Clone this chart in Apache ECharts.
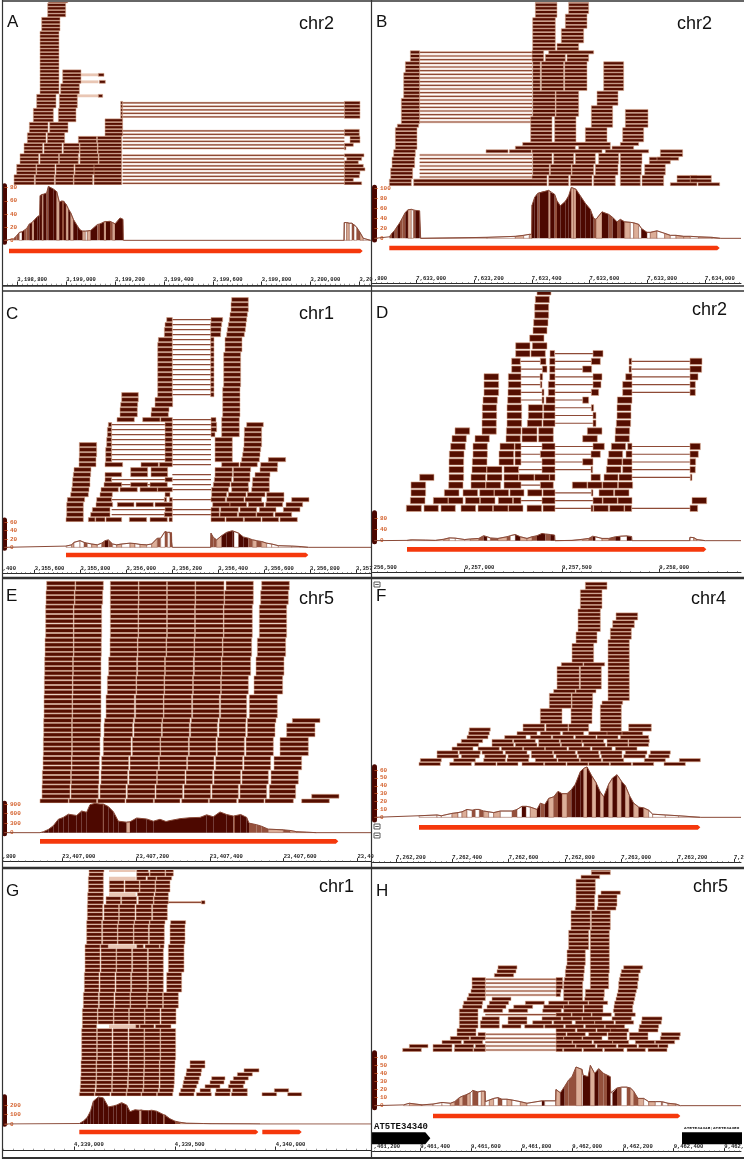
<!DOCTYPE html>
<html>
<head>
<meta charset="utf-8">
<style>html,body{margin:0;padding:0;background:#fff}#c{width:744px;height:1160px}</style>
<script src="https://cdn.jsdelivr.net/npm/echarts@6/dist/echarts.min.js"></script>
</head>
<body>
<div id="c"></div>
<script>
// Read rows: [rowFrom,rowTo, start,end, start,end, ...] positions in track bins (1/3 reference pixel)
const readsA=[[0,2,42,103,106,163,166,220,222,278,282,365],[3,5,50,108,110,165,168,222,225,285,282,365],[6,8,60,116,120,176,178,235,240,295,297,365],[9,11,72,128,132,186,190,238,240,292,294,365],[12,13,82,138,142,194,235,290,292,365],[14,14,82,138,142,194,315,368],[15,17,88,144,149,204,315,368],[18,18,100,160,175,228,315,368],[19,21,100,160,175,228,362,368],[22,23,110,168,178,232,362,368],[24,25,110,168,178,232],[26,28,120,177,182,238],[29,32,120,177,188,243],[33,43,120,177],[44,47,125,180],[48,51,143,197],[52,52,145,203]];
const rightA=[[19,23,1033,1080],[14,15,1033,1078],[12,13,1050,1080],[11,11,1033,1060],[10,10,1033,1038],[8,8,1033,1092],[7,7,1040,1085],[6,6,1033,1075],[5,5,1033,1090],[4,4,1033,1095],[3,3,1033,1080],[2,2,1033,1078],[1,1,1033,1060],[0,0,1033,1085],[31,31,295,312],[29,29,298,316],[25,25,295,308]];
const intronsA=[[19,23,368,1033],[11,15,368,1033],[10,10,368,1033],[0,8,368,1033]];
const paleA=[[31,31,218,295],[29,29,218,295],[25,25,218,295],[10,10,218,295],[1,1,218,295],[3,3,218,295],[5,5,218,295],[7,7,218,295]];
const covA=[[40,2,1],[50,7,1],[58,12,3],[66,13,0],[72,15,1],[80,18,1],[88,25,0],[96,27,2],[102,30,0],[112,36,0],[119,38,0],[120,68,0],[126,70,2],[130,70,0],[140,72,1],[145,82,0],[160,78,0],[170,74,2],[178,58,0],[186,60,1],[192,60,0],[198,55,2],[205,48,0],[212,42,2],[220,32,0],[232,22,0],[240,16,0],[248,14,2],[256,14,3],[262,14,2],[272,15,0],[292,24,1],[300,25,0],[312,28,2],[318,29,0],[330,29,1],[338,27,2],[345,25,0],[360,34,0],[369,32,0],[370,0,3],[1032,0,3],[1033,27,3],[1040,27,2],[1048,26,3],[1056,26,1],[1062,24,3],[1070,20,1],[1080,12,2],[1090,3,3],[1112,0,3]];
const geneA=[[27,1088]];
const tickLabelsA=['3,198,800','3,199,000','3,199,200','3,199,400','3,199,600','3,199,800','3,200,000','3,20'];
const covTicksA=[0,20,40,60,80];

const readsB=[[0,1,52,118,125,525,530,590,595,660,665,730,745,805,810,875],[0,0,895,975,978,1043],[1,1,915,975],[2,2,56,122,480,525,530,590,595,660,665,730,745,805,810,875,915,975,955,1018],[1,1,955,1018],[3,4,56,122,482,532,535,598,600,665,670,738,745,808,818,880],[5,5,60,128,482,532,535,598,600,665,670,738,745,808,818,880],[6,7,60,128,482,540,545,605,610,670,680,740,745,810,832,895],[7,7,855,920],[8,8,65,130,482,540,545,605,610,670,680,740,745,810,865,932],[9,9,65,130,342,408,412,478,480,690,700,830,865,932],[10,10,70,135,430,610,620,715,720,785],[11,11,70,135,452,715,745,800],[12,15,70,135,476,540,548,612,640,705,752,815],[16,16,76,140,476,540,548,612,658,722,760,828],[17,18,88,143,476,540,548,612,658,722,760,828],[19,20,88,143,482,550,552,620,658,722,760,828],[21,21,88,143,482,550,552,620,658,722],[22,23,88,143,482,550,552,620,675,738],[24,25,95,143,482,550,552,620,675,738],[26,30,95,143,482,505,508,575,578,645,695,755],[31,33,100,143,482,505,508,575,578,645,695,755],[34,35,115,143,480,515,520,580,585,650],[36,36,115,143,480,515,530,665],[37,38,482,550,555,620],[39,42,482,550,568,635],[43,45,482,550,580,645],[46,46,490,555,580,645],[47,50,490,555,590,650]];
const intronsB=[[0,8,143,480],[17,36,143,480]];
const paleB=[];
const covB=[[52,3,1],[60,10,0],[68,16,1],[76,24,0],[84,32,1],[92,42,1],[100,52,0],[108,57,2],[118,58,3],[124,56,1],[130,56,0],[143,55,0],[146,0,3],[345,2,3],[430,4,2],[455,6,3],[472,8,2],[479,8,2],[480,66,0],[488,82,0],[497,90,1],[503,92,0],[530,96,2],[535,92,0],[548,88,1],[555,75,0],[565,65,0],[580,74,0],[590,85,0],[598,102,2],[605,100,2],[612,98,0],[625,85,0],[640,70,0],[655,58,0],[665,40,1],[672,38,2],[690,53,0],[710,48,1],[722,42,0],[735,33,1],[745,38,0],[758,33,2],[775,32,3],[785,31,2],[800,28,3],[808,20,0],[825,12,3],[835,12,2],[855,15,3],[878,10,2],[895,6,3],[912,6,2],[935,4,2],[955,4,3],[980,3,2],[1020,2,2],[1045,0,3]];
const geneB=[[52,1043]];
const tickLabelsB=['7,633,000','7,633,200','7,633,400','7,633,600','7,633,800','7,634,000'];
const covTicksB=[0,20,40,60,80,100];

const readsC=[[44,44,695,745],[42,43,693,745],[41,41,690,742],[40,40,500,517,633,668,688,740],[39,39,495,517,632,665,685,738],[38,38,493,517,632,663,682,736],[37,37,493,517,632,662,680,733],[36,36,475,517,632,642,675,726],[34,35,473,517,632,642,675,726],[27,33,473,517,632,642,671,722],[25,26,473,517,632,642,668,720],[24,24,465,518,365,415,668,720],[23,23,465,518,362,413,668,720],[22,22,455,507,360,412,668,720],[21,21,453,505,360,412,668,720],[20,20,428,480,482,517,351,403,633,648,665,718],[25,25,365,415],[19,19,325,335,495,517,633,650,665,718,740,790],[18,18,322,335,495,517,633,650,665,718,733,785],[17,17,322,335,495,517,633,645,665,718,733,785],[16,16,320,335,495,517,645,697,732,785],[15,15,238,290,320,335,495,517,645,697,732,785],[14,14,238,290,317,335,495,517,645,697,730,782],[13,13,238,290,317,335,495,517,645,697,728,780],[12,12,237,288,317,335,495,517,645,697,725,778,805,857],[11,11,237,288,315,368,423,475,478,517,665,717,720,772,782,833],[10,10,222,273,392,443,453,503,645,697,700,752,780,832],[9,9,220,272,315,365,392,443,453,503,645,697,700,750,765,810],[8,8,218,270,315,335,495,517,643,695,700,750,758,808],[7,7,217,270,312,365,392,443,450,502,640,690,693,745,757,808],[6,6,215,267,303,355,360,412,420,472,473,517,635,686,695,746,755,808],[5,5,212,265,300,337,495,510,635,680,685,738,742,795,800,852],[4,4,202,254,290,335,493,500,508,517,633,676,680,732,735,785,800,852,875,927],[3,3,200,250,288,338,352,402,408,460,465,517,638,690,690,740,745,792,797,848,858,908],[2,2,200,250,277,330,495,517,633,658,662,715,720,770,778,828,850,900],[1,1,200,250,272,330,493,517,633,658,660,712,716,768,770,820,825,875],[0,0,198,250,265,285,287,315,318,365,388,440,450,502,507,517,633,675,678,730,733,783,786,836,840,892]];
const intronsC=[[25,40,517,633],[11,20,517,633],[9,9,517,633],[6,8,517,633],[4,4,517,633],[1,2,517,633],[12,19,335,495],[7,8,335,495],[4,4,335,493],[1,2,335,495]];
const paleC=[];
const covC=[[198,3,3],[215,6,2],[222,12,3],[240,16,3],[252,12,1],[262,10,3],[275,8,2],[292,6,3],[305,10,1],[315,16,0],[325,18,1],[338,8,3],[350,6,2],[365,8,3],[390,10,2],[405,9,3],[420,7,2],[440,6,3],[455,8,2],[472,22,1],[482,22,3],[495,38,1],[503,36,3],[510,36,1],[516,36,1],[517,0,3],[632,0,3],[633,34,1],[640,24,1],[650,18,2],[665,28,0],[680,36,0],[697,40,0],[702,38,3],[716,34,0],[730,25,0],[745,22,1],[758,18,2],[770,16,1],[785,14,2],[800,10,3],[815,8,3],[835,4,3],[875,3,3],[900,2,3],[925,0,3]];
const geneC=[[198,925]];
const tickLabelsC=['3,355,600','3,355,800','3,356,000','3,356,200','3,356,400','3,356,600','3,356,800','3,357'];
const covTicksC=[0,20,40,60];

const readsD=[[28,28,495,537],[27,27,490,532],[25,26,488,530],[24,24,485,528],[23,23,483,525],[22,22,473,516],[21,21,431,474,481,525],[20,20,431,474,477,520,534,548,663,693],[19,19,419,445,505,522,533,549,658,685,771,779,954,990],[18,18,419,447,511,525,533,549,632,659,771,778,954,989],[17,17,336,380,409,447,504,512,533,549,663,690,761,780,954,978],[16,16,336,380,409,447,505,510,529,549,663,687,752,780,954,970],[15,15,336,380,408,447,510,516,529,549,658,680,752,780,954,970],[14,14,333,376,407,447,510,516,522,549,632,650,736,780],[13,13,331,374,405,449,469,512,515,549,658,665,735,777],[12,12,331,374,405,449,469,512,515,549,663,672,735,777],[11,11,330,373,405,449,466,510,513,549,663,672,733,776],[10,10,249,293,330,373,403,447,450,495,500,544,646,690,730,773],[9,9,240,283,309,352,402,445,450,495,500,544,632,676,729,772],[8,8,236,280,303,346,384,427,429,447,510,549,663,697,718,761,767,780,954,985],[7,7,232,276,303,346,381,425,429,447,505,549,657,685,710,752,762,780,954,979],[6,6,231,275,301,345,381,425,429,447,510,549,632,663,706,750,752,780,954,971],[5,5,231,275,300,344,345,390,396,440,510,549,657,662,703,747,752,780,954,970],[4,4,143,186,231,275,297,341,345,390,396,440,441,486,488,532,533,549,657,685,696,738,741,780,955,960],[3,3,117,161,230,273,297,341,342,386,396,447,505,544,601,645,647,690,692,737,739,782],[2,2,117,161,217,261,273,317,323,366,367,410,414,456,467,510,513,549,658,663,681,725,728,771],[1,1,115,159,184,228,229,273,280,323,325,369,379,422,424,447,510,549,663,691,693,736,738,780,960,1004],[0,0,103,148,156,199,207,250,267,311,318,362,364,408,410,453,465,509,513,549,657,663,665,709,713,756,758,779,954,977]];
const intronsD=[[20,20,549,663],[19,19,445,505,549,658,779,954],[18,18,447,511,549,632,778,954],[17,17,447,504,549,663,780,954],[16,16,447,505,549,663,780,954],[15,15,447,510,549,658,780,954],[14,14,447,510,549,632],[13,13,549,658],[12,12,549,663],[11,11,549,663],[8,8,447,510,549,663,780,954],[7,7,447,505,549,657,780,954],[6,6,447,510,549,632,780,954],[5,5,440,510,549,657,780,954],[4,4,780,955],[3,3,447,505],[2,2,549,658],[1,1,447,510,549,663],[0,0,549,657,779,954]];
const paleD=[];
const covD=[[105,1,3],[118,3,3],[160,2,3],[190,1,3],[215,5,2],[232,10,3],[250,9,3],[278,4,3],[295,6,2],[320,8,1],[335,18,0],[345,14,3],[355,10,1],[378,8,2],[405,14,1],[415,18,3],[430,22,0],[445,14,2],[465,8,2],[480,14,1],[495,18,0],[510,26,0],[520,24,1],[535,22,0],[548,20,0],[549,0,3],[600,1,3],[632,5,2],[650,8,1],[662,16,0],[670,14,3],[690,8,2],[710,8,1],[730,14,0],[745,16,3],[765,17,0],[779,15,0],[780,0,3],[953,0,3],[954,12,3],[965,11,2],[975,4,3],[1000,0,3]];
const geneD=[[105,1003]];
const tickLabelsD=['9,257,000','9,257,500','9,258,000'];
const covTicksD=[0,40,80];

const readsE=[[0,0,120,205,207,290,293,375,378,460,463,540,545,625,628,710,715,792,795,880,905,988],[1,1,935,1017],[1,3,126,210,213,295,300,378,382,465,468,548,552,632,636,715,720,800,808,887],[4,6,127,212,214,297,303,383,387,470,472,555,558,638,642,722,726,805,813,895],[7,9,129,214,216,298,305,386,390,475,478,560,563,642,647,728,732,812,822,905],[10,13,130,215,217,300,310,393,397,480,482,565,568,648,652,733,738,820,840,925],[14,16,131,215,217,302,312,398,402,484,487,568,572,652,657,737,742,825,860,945],[17,17,131,215,217,303,314,400,404,486,488,570,574,654,658,738,742,828,877,960],[18,22,132,216,218,303,318,403,407,490,492,575,578,658,662,740,748,832],[23,26,133,217,219,303,322,408,410,492,494,578,580,662,664,745,762,848],[27,30,134,218,220,303,326,410,413,494,496,580,583,664,666,752,768,852],[31,34,135,220,222,304,330,412,414,498,500,582,584,667,669,755,772,857],[35,41,137,220,222,305,331,414,416,500,502,584,586,670,672,757,778,860],[42,44,138,223,225,308,331,415,417,500,502,585,587,672,674,760,782,865],[45,46,140,225,227,310,331,415,417,500,502,585,587,672,678,760,785,868]];
const intronsE=[];
const paleE=[];
const covE=[[120,0,0],[130,30,0],[145,100,0],[160,220,0],[175,420,0],[190,480,0],[205,580,0],[230,540,0],[245,680,0],[260,640,0],[270,880,0],[285,920,0],[300,900,0],[309,900,2],[311,900,0],[325,820,0],[340,660,0],[355,360,0],[380,330,2],[390,340,0],[410,460,0],[440,430,0],[460,360,0],[480,420,0],[498,350,0],[510,380,0],[540,440,0],[570,470,0],[600,480,0],[620,560,0],[640,500,0],[660,650,0],[680,570,0],[700,520,1],[705,530,0],[722,570,0],[740,480,0],[747,300,1],[770,250,1],[785,200,1],[805,110,2],[850,90,1],[870,70,2],[890,30,2],[920,15,3],[950,0,3]];
const geneE=[[120,1015]];
const tickLabelsE=['23,407,000','23,407,200','23,407,400','23,407,600','23,40'];
const covTicksE=[0,300,600,900];

const readsF=[[0,0,141,205,233,298,308,372,375,438,450,515,518,582,585,648,650,712,715,778,782,845,876,940],[1,1,145,208,245,310,335,400,405,470,490,555,558,622,625,688,692,755,817,880,922,985],[2,2,195,260,268,322,338,402,408,472,478,545,552,615,620,682,688,750,755,820,830,892],[3,3,195,258,262,325,330,393,400,465,478,542,545,610,616,680,685,750,760,825,835,895],[4,4,240,303,318,382,388,452,455,518,520,585,590,655,660,720,730,795],[5,5,255,320,360,425,430,495,500,565,568,630,635,700,705,768,770,830],[6,6,268,332,360,422,425,490,500,562,565,630,630,695,705,768,770,832],[7,7,285,348,398,462,475,538,542,605,610,672,675,738,745,830],[8,8,290,352,435,495,505,565,572,635,650,712,705,768,750,812],[9,9,292,355,453,518,522,588,590,650,685,748,770,838],[10,10,453,518,522,588,590,650,685,748,770,838],[11,14,505,570,597,660,685,748],[15,15,532,598,600,662,685,748],[16,16,532,598,600,662,690,752],[17,18,532,598,600,662,708,772],[19,19,545,610,612,672,708,772],[20,25,555,622,625,688,708,772],[26,26,568,633,635,698,708,772],[27,31,600,665,708,772],[32,32,612,675,708,772],[33,34,612,675,715,778],[35,35,618,685,715,778],[36,37,618,685,722,787],[38,39,618,685,732,797],[40,40,618,685],[41,45,625,690],[46,47,640,705]];
const intronsF=[];
const paleF=[];
const covF=[[141,2,3],[195,3,3],[208,2,3],[240,5,2],[258,6,3],[270,7,2],[285,10,3],[300,9,1],[310,10,3],[322,10,1],[335,8,2],[350,7,3],[365,6,2],[385,8,3],[420,8,1],[435,10,3],[450,14,0],[462,14,3],[475,13,2],[495,10,0],[505,18,1],[518,16,0],[530,24,2],[545,26,1],[558,33,0],[570,30,2],[585,30,1],[598,35,0],[610,42,0],[625,58,0],[635,62,2],[645,64,0],[660,52,2],[672,44,0],[685,32,2],[695,26,0],[710,42,2],[722,50,0],[735,54,2],[748,46,0],[760,40,2],[772,28,0],[785,18,2],[800,13,0],[815,12,2],[830,9,3],[842,4,3],[880,3,3],[920,2,3],[985,0,3]];
const geneF=[[141,985]];
const tickLabelsF=['7,262,200','7,262,400','7,262,600','7,262,800','7,263,000','7,263,200','7,2'];
const covTicksF=[0,10,20,30,40,50,60];

const readsG=[[0,0,238,283,285,330,333,378,380,423,425,470,472,518,537,582,589,634,645,690,694,742,786,830,863,905],[1,1,240,285,288,335,337,380,382,428,430,475,478,520,542,585,600,632,648,692,697,742,823,866],[2,2,241,286,289,335,337,382,385,430,432,477,480,522,548,590,615,660,685,730],[3,3,242,287,289,335,337,382,385,430,432,477,480,523,550,595,630,672,690,735],[4,4,242,288,290,335,338,383,385,430,432,478,480,523,553,598,635,675,700,745],[5,5,243,288,290,336,338,384,386,431,433,478,480,524,558,603,712,757],[6,6,243,288,290,336,339,384,386,431,433,478,480,524,560,605,732,777],[7,8,243,288,290,336,339,384,387,432,434,478,480,525,570,615],[9,16,245,290,292,336,339,384,387,432,434,480,482,527],[17,17,247,290,407,418,420,462,466,513],[18,21,247,292,294,340,342,386,388,433,435,480,483,528],[22,25,250,295,298,342,345,390,392,440,442,488,490,535],[26,30,253,297,300,345,348,392,395,442,445,490,500,545],[31,36,255,300,303,348,350,395,398,442,445,490,505,552],[37,37,255,300,302,325,410,430,435,478,480,492,505,552],[38,42,260,305,308,352,354,400,402,445,448,493,510,555],[43,43,260,305,308,354,356,402,404,448,450,495,512,557],[44,47,262,308,312,356,358,405,408,455,458,502],[48,49,263,310,318,362,365,410,415,460,462,505],[48,48,604,615],[50,50,263,310,412,462,465,505],[51,53,265,310,328,372,375,418,420,465,467,510],[54,54,265,310,410,438,442,468,470,515],[55,55,267,310,410,448,450,495,497,520],[56,56,267,312,410,445,450,495,497,520]];
const intronsG=[[48,48,498,604]];
const paleG=[[17,17,327,407],[37,37,327,407],[50,50,327,407],[54,54,327,407],[56,56,327,407]];
const covG=[[238,5,0],[250,30,0],[262,70,0],[272,140,0],[280,240,0],[295,285,0],[310,275,0],[325,180,0],[340,190,0],[350,200,0],[365,225,0],[380,200,0],[390,130,0],[405,150,0],[418,145,2],[424,150,0],[445,140,0],[455,145,0],[470,135,0],[490,100,1],[495,100,0],[510,55,0],[525,30,1],[540,18,2],[560,8,2],[610,5,3],[630,3,3],[750,1,3],[780,0,3]];
const geneG=[[238,775],[787,905]];
const tickLabelsG=['4,339,000','4,339,500','4,340,000'];
const covTicksG=[0,100,200];

const readsH=[[0,0,92,148,183,240,247,303,305,340,552,572,575,630,634,692,697,755,765,820,828,885],[1,1,112,168,183,240,248,305,310,340,552,610,612,670,675,733,738,795,800,858,860,888],[2,2,210,268,275,332,552,600,602,660,665,722,722,770,790,848,850,908],[3,3,235,292,295,340,552,575,575,630,632,690,708,765,772,828,865,922],[4,4,255,312,318,340,552,582,585,640,650,705,708,765,772,828,868,925],[5,5,255,312,552,610,615,672,675,732,715,770,800,858],[6,6,262,318,325,382,390,447,458,515,518,575,580,635,640,697,700,758,802,860],[7,7,262,318,325,382,408,465,482,540,545,600,610,668,668,726,730,785,808,868],[8,8,262,318,330,382,408,465,510,568,572,630,632,690,720,778,810,870],[9,9,262,318,552,598,600,658,660,718,728,790],[10,10,262,318,335,392,410,467,512,568,575,633,636,693,724,782],[11,11,272,330,345,402,425,482,515,575,575,633,636,693,726,782],[12,12,275,332,352,410,460,517,530,588,590,648,650,707,728,785],[13,13,285,340,360,417,575,632,638,695,732,788],[14,14,290,340,552,565,575,632,640,697,735,790],[15,15,297,340,552,567,575,632,640,697,738,793],[16,17,300,340,552,572,575,632,655,710,740,797],[18,18,300,340,552,572,577,635,655,710,742,800],[19,19,367,425,580,635,655,710,745,800],[20,20,375,432,580,637,655,712,748,805],[21,21,378,435,582,637,655,712,755,812],[22,25,585,640,655,712],[26,30,590,650,655,712],[31,35,597,655,658,715],[36,36,610,668,675,732],[37,39,612,668,678,735],[40,40,612,670,687,745],[41,43,612,670],[44,44,627,683],[45,46,658,715]];
const intronsH=[[0,4,340,552],[9,9,340,552],[14,18,340,552]];
const paleH=[];
const covH=[[95,1,3],[112,3,2],[150,1,3],[183,2,3],[210,4,3],[235,3,2],[248,5,1],[262,10,2],[272,12,1],[285,14,2],[295,16,3],[302,19,1],[318,17,3],[328,18,2],[339,18,2],[340,5,3],[352,7,2],[365,9,3],[378,10,1],[390,8,3],[405,8,2],[420,7,3],[445,5,2],[465,3,3],[510,6,0],[518,6,3],[551,6,3],[552,20,2],[565,16,0],[578,24,1],[590,32,1],[600,36,1],[612,48,2],[630,45,3],[633,38,0],[648,36,0],[655,50,2],[668,40,0],[680,46,1],[695,40,1],[705,38,0],[715,36,0],[716,16,3],[722,16,0],[735,22,1],[748,23,3],[765,23,1],[775,22,2],[785,18,1],[798,9,2],[815,9,3],[830,5,2],[850,5,3],[868,5,1],[872,5,3],[888,3,2],[912,2,3],[925,0,3]];
const geneH=[[183,925]];
const teH=[[0,175],[930,1113]];
const tickLabelsH=['9,461,400','9,461,600','9,461,800','9,462,000','9,462,200','9,462,400','9,462,'];
const covTicksH=[0,10,20,30,40,50,60];

// Panel layout (z = reference pixel x 3, relative to the panel's crop origin)
const panels=[
 {name:'A',chr:'chr2',ox:0,oy:0,px:2,top:2,base:550,pitch:10.5,reads:readsA.concat(rightA),introns:intronsA,pale:paleA,cov:covA,gene:geneA,labels:tickLabelsA,covTicks:covTicksA,t0:3198800,major:200,z0:52,zStep:146.6,edge:null,covTop:563,covTopVal:80,covBase:721,bandTop:557,bandBot:727,geneZ:753,axisZ:855,lx:7,ly:22,cx:299,cy:24},
 {name:'B',chr:'chr2',ox:372,oy:0,px:372,top:2,base:553,pitch:11,reads:readsB,introns:intronsB,pale:paleB,cov:covB,gene:geneB,labels:tickLabelsB,covTicks:covTicksB,t0:7633000,major:200,z0:133,zStep:173.2,edge:[5,',800'],covTop:565,covTopVal:100,covBase:715,bandTop:562,bandBot:720,geneZ:744,axisZ:850,lx:376,ly:22,cx:677,cy:24},
 {name:'C',chr:'chr1',ox:0,oy:290,px:2,top:292,base:689,pitch:15,reads:readsC,introns:intronsC,pale:paleC,cov:covC,gene:geneC,labels:tickLabelsC,covTicks:covTicksC,t0:3355600,major:200,z0:104,zStep:137.7,edge:[8,',400'],covTop:697,covTopVal:60,covBase:772,bandTop:690,bandBot:775,geneZ:795,axisZ:850,lx:6,ly:314,cx:299,cy:314},
 {name:'D',chr:'chr2',ox:372,oy:290,px:372,top:292,base:655,pitch:23.2,reads:readsD,introns:intronsD,pale:paleD,cov:covD,gene:geneD,labels:tickLabelsD,covTicks:covTicksD,t0:9257000,major:500,z0:278,zStep:292,edge:[5,'256,500'],covTop:685,covTopVal:80,covBase:752,bandTop:668,bandBot:755,geneZ:778,axisZ:847,lx:376,ly:313,cx:692,cy:310},
 {name:'E',chr:'chr5',ox:0,oy:575,px:2,top:580,base:678,pitch:14.2,reads:readsE,introns:intronsE,pale:paleE,cov:covE,gene:geneE,labels:tickLabelsE,covTicks:covTicksE,t0:23407000,major:200,z0:187,zStep:221.3,edge:[7,',800'],covTop:687,covTopVal:900,covBase:773,bandTop:685,bandBot:776,geneZ:799,axisZ:860,lx:6,ly:596,cx:299,cy:599},
 {name:'F',chr:'chr4',ox:372,oy:575,px:372,top:580,base:567,pitch:11.5,reads:readsF,introns:intronsF,pale:paleF,cov:covF,gene:geneF,labels:tickLabelsF,covTicks:covTicksF,t0:7262200,major:200,z0:72,zStep:169,edge:null,covTop:585,covTopVal:60,covBase:727,bandTop:575,bandBot:735,geneZ:757,axisZ:862,lx:376,ly:596,cx:691,cy:599},
 {name:'G',chr:'chr1',ox:0,oy:865,px:2,top:870,base:688,pitch:12,reads:readsG,introns:intronsG,pale:paleG,cov:covG,gene:geneG,labels:tickLabelsG,covTicks:covTicksG,t0:4339000,major:500,z0:222,zStep:302.5,edge:null,covTop:720,covTopVal:200,covBase:777,bandTop:695,bandBot:778,geneZ:801,axisZ:855,lx:6,ly:891,cx:319,cy:887},
 {name:'H',chr:'chr5',ox:372,oy:865,px:372,top:870,base:555,pitch:11.8,reads:readsH,introns:intronsH,pale:paleH,cov:covH,gene:geneH,te:teH,labels:tickLabelsH,covTicks:covTicksH,t0:9461400,major:200,z0:145,zStep:152,edge:[5,',461,200'],covTop:577,covTopVal:60,covBase:722,bandTop:563,bandBot:728,geneZ:753,axisZ:860,lx:376,ly:891,cx:693,cy:887}
];

const DARK='#550e00', EDGE='#dca98f', INTRON='#8e4a36', PALE='#ecd0c2', GENE='#f5380c', ORANGE='#d4622e', AXIS='#2a2a2a';
const SHADES=['#4d0800','#94503c','#dcae98','#ffffff'];

const grid=[],xAxis=[],yAxis=[],series=[],graphic=[];
function expand(bands,toBp){
  const out=[];
  bands.forEach(b=>{for(let r=b[0];r<=b[1];r++)for(let i=2;i<b.length;i+=2)out.push([toBp(b[i]),toBp(b[i+1]),r]);});
  return out;
}
function rowRect(fill,stroke,frac){
  return function(params,api){
    const a=api.coord([api.value(0),api.value(2)]),b=api.coord([api.value(1),api.value(2)]);
    const h=api.size([0,1])[1]*frac;
    return {type:'rect',shape:{x:a[0],y:a[1]-h/2,width:b[0]-a[0],height:h},style:{fill:fill,stroke:stroke,lineWidth:stroke?0.6:0}};
  };
}
function labelAxis(g,p,xmin,xmax,extra){return Object.assign({gridIndex:g,type:'value',min:xmin,max:xmax,show:false,splitLine:{show:false}},extra||{});}

panels.forEach(p=>{
  const L=p.px+0.5, R=p.px===2?371:741;
  const toBp=z=>p.t0+(z-p.z0)*p.major/p.zStep;
  const binAt=px=>(px-p.ox)*3;
  const range=(l,r)=>[toBp(binAt(l)),toBp(binAt(r))];
  const zy=z=>p.oy+z/3;

  // Reads grid
  const rowY0=zy(p.base), pitchPx=p.pitch/3, rBottom=rowY0+pitchPx/2;
  let g=grid.length;
  grid.push({left:L,width:R-L,top:p.top,height:rBottom-p.top,outerBoundsMode:'none',containLabel:false});
  let rg=range(L,R);
  xAxis.push(labelAxis(g,p,rg[0],rg[1]));
  yAxis.push({gridIndex:g,type:'value',show:false,min:-0.5,max:(rowY0-p.top)/pitchPx,splitLine:{show:false}});
  const ax=xAxis.length-1, ay=yAxis.length-1;
  const pitchLight=p.pitch<13;
  if(pitchLight && p.introns.length){
    series.push({type:'custom',xAxisIndex:ax,yAxisIndex:ay,clip:true,silent:true,animation:false,renderItem:rowRect(PALE,null,0.62),data:expand(p.introns,toBp),encode:{x:[0,1],y:2}});
  }
  if(p.introns.length){
    series.push({type:'custom',xAxisIndex:ax,yAxisIndex:ay,clip:true,silent:true,animation:false,renderItem:function(params,api){
      const a=api.coord([api.value(0),api.value(2)]),b=api.coord([api.value(1),api.value(2)]);
      return {type:'rect',shape:{x:a[0],y:a[1]-0.55,width:b[0]-a[0],height:1.1},style:{fill:INTRON}};
    },data:expand(p.introns,toBp),encode:{x:[0,1],y:2}});
  }
  if(p.pale.length){
    series.push({type:'custom',xAxisIndex:ax,yAxisIndex:ay,clip:true,silent:true,animation:false,renderItem:rowRect('#e9c6b4',null,0.8),data:expand(p.pale,toBp),encode:{x:[0,1],y:2}});
  }
  series.push({type:'custom',xAxisIndex:ax,yAxisIndex:ay,clip:true,silent:true,animation:false,renderItem:rowRect(DARK,EDGE,p.pitch>13?0.82:0.84),data:expand(p.reads,toBp),encode:{x:[0,1],y:2}});

  // Coverage grid
  const bandT=zy(p.bandTop), bandB=zy(p.bandBot), unit=(p.covBase-p.covTop)/p.covTopVal;
  const gL=p.px+2.5;
  g=grid.length;
  grid.push({left:gL,width:R-gL,top:bandT,height:bandB-bandT,outerBoundsMode:'none',containLabel:false});
  rg=range(gL,R);
  xAxis.push(labelAxis(g,p,rg[0],rg[1]));
  yAxis.push({gridIndex:g,type:'value',position:'left',
    min:-(p.bandBot-p.covBase)/unit,max:(p.covBase-p.bandTop)/unit,
    axisLine:{show:true,onZero:false,lineStyle:{color:'#4a0600',width:5}},
    axisTick:{show:true,inside:true,length:3.5,customValues:p.covTicks,lineStyle:{color:ORANGE,width:0.7}},
    axisLabel:{show:true,inside:true,margin:5.5,customValues:p.covTicks,color:ORANGE,fontFamily:'Liberation Mono',fontWeight:'bold',fontSize:6},
    splitLine:{show:false}});
  const cx=xAxis.length-1, cy=yAxis.length-1;
  const covRows=p.cov.map((c,i)=>{
    const n=i<p.cov.length-1?p.cov[i+1]:c;
    return [toBp(c[0]),toBp(n[0]),c[1],n[1],c[2]];
  });
  series.push({type:'custom',xAxisIndex:cx,yAxisIndex:cy,silent:true,animation:false,clip:true,renderItem:function(params,api){
    const a=api.coord([api.value(0),api.value(2)]),b=api.coord([api.value(1),api.value(3)]);
    const z=api.coord([api.value(0),0]),y0=z[1],shade=api.value(4);
    if(b[0]-a[0]<0.01||(api.value(2)===0&&api.value(3)===0))return null;
    return {type:'polygon',shape:{points:[[a[0],a[1]],[b[0],b[1]],[b[0],y0],[a[0],y0]]},style:{fill:SHADES[shade],stroke:shade>=2?'#8a4a38':null,lineWidth:shade>=2?0.5:0}};
  },data:covRows,encode:{x:[0,1],y:2}});
  const outline=[[rg[0],0]].concat(p.cov.map(c=>[toBp(c[0]),c[1]])).concat([[rg[1],0]]);
  series.push({type:'line',xAxisIndex:cx,yAxisIndex:cy,symbol:'none',silent:true,animation:false,clip:true,lineStyle:{color:'#8a4a38',width:1},data:outline});

  // Gene track and genome axis
  const geneY=zy(p.geneZ), axisY=zy(p.axisZ), tTop=geneY-14;
  const tHeight=axisY-tTop;
  g=grid.length;
  grid.push({left:L,width:R-L,top:tTop,height:tHeight,outerBoundsMode:'none',containLabel:false});
  rg=range(L,R);
  const ticks=[],labelMap={},labVals=[],minor=[];
  for(let i=-3;i<14;i++){
    const v=p.t0+i*p.major;
    if(v>=rg[0]&&v<=rg[1]){ticks.push(v);if(i>=0&&i<p.labels.length){labVals.push(v);labelMap[String(v)]=p.labels[i];}}
  }
  for(let v=p.t0-3*p.major;v<=rg[1];v+=p.major/10){if(v>=rg[0])minor.push(v);}
  if(p.edge){const v=Math.ceil(toBp(p.edge[0]));labVals.unshift(v);labelMap[String(v)]=p.edge[1];}
  xAxis.push({gridIndex:g,type:'value',position:'bottom',min:rg[0],max:rg[1],
    axisLine:{show:true,onZero:false,lineStyle:{color:AXIS,width:1}},
    axisTick:{show:true,inside:true,length:3.5,customValues:ticks,lineStyle:{color:AXIS,width:1}},
    axisLabel:{show:true,inside:true,margin:2,customValues:labVals,align:'left',verticalAlign:'bottom',color:'#222',fontFamily:'Liberation Mono',fontWeight:'bold',fontSize:5.5,formatter:v=>labelMap[String(v)]||''},
    splitLine:{show:false}});
  const tx=xAxis.length-1;
  xAxis.push({gridIndex:g,type:'value',position:'bottom',min:rg[0],max:rg[1],
    axisLine:{show:false,onZero:false},axisLabel:{show:false},
    axisTick:{show:true,inside:true,length:1.3,customValues:minor,lineStyle:{color:'#555',width:0.6}},splitLine:{show:false}});
  yAxis.push({gridIndex:g,type:'value',show:false,min:0,max:tHeight,splitLine:{show:false}});
  const ty=yAxis.length-1;
  const geneLevel=axisY-geneY;
  series.push({type:'custom',xAxisIndex:tx,yAxisIndex:ty,silent:true,animation:false,renderItem:function(params,api){
    const a=api.coord([api.value(0),geneLevel]),b=api.coord([api.value(1),geneLevel]);
    const h=2.3,tip=b[0]-2.5;
    return {type:'polygon',shape:{points:[[a[0],a[1]-h],[tip,a[1]-h],[b[0],a[1]],[tip,a[1]+h],[a[0],a[1]+h]]},style:{fill:GENE}};
  },data:p.gene.map(d=>[toBp(d[0]),toBp(d[1])]),encode:{x:[0,1]}});
  if(p.te){
    const teLevel=axisY-zy(820);
    series.push({type:'custom',xAxisIndex:tx,yAxisIndex:ty,silent:true,animation:false,clip:true,renderItem:function(params,api){
      const a=api.coord([api.value(0),teLevel]),b=api.coord([api.value(1),teLevel]);
      const h=6,pointed=api.value(2)===1,tip=pointed?b[0]-5:b[0];
      return {type:'polygon',shape:{points:[[a[0],a[1]-h],[tip,a[1]-h],[b[0],a[1]],[tip,a[1]+h],[a[0],a[1]+h]]},style:{fill:'#000'}};
    },data:p.te.map((d,i)=>[toBp(d[0]),toBp(d[1]),i===0?1:0]),encode:{x:[0,1]}});
  }

  // Panel letter and chromosome
  graphic.push({type:'text',x:p.lx,y:p.ly,z:50,style:{text:p.name,font:'17px "Liberation Sans"',fill:'#111',textVerticalAlign:'middle'}});
  graphic.push({type:'text',x:p.cx,y:p.cy,z:50,style:{text:p.chr,font:'18px "Liberation Sans"',fill:'#111',textVerticalAlign:'middle'}});
});

// Frames
const frameH=[[1,1.5],[286,1.5],[291,1.5],[578,2.5],[868,2.5],[1158,2]];
frameH.forEach(f=>graphic.push({type:'line',z:40,shape:{x1:2,y1:f[0],x2:744,y2:f[0]},style:{stroke:'#333',lineWidth:f[1]}}));
[[2.5,0,1159],[371.5,0,1159]].forEach(f=>graphic.push({type:'line',z:40,shape:{x1:f[0],y1:f[1],x2:f[0],y2:f[2]},style:{stroke:'#333',lineWidth:1.2}}));
// Track collapse boxes in panel F
[[374,582],[374,824],[374,833]].forEach(b=>{
  graphic.push({type:'rect',z:45,shape:{x:b[0],y:b[1],width:6,height:5},style:{fill:'#fff',stroke:'#333',lineWidth:0.8}});
  graphic.push({type:'line',z:46,shape:{x1:b[0]+1.2,y1:b[1]+2.5,x2:b[0]+4.8,y2:b[1]+2.5},style:{stroke:'#333',lineWidth:0.8}});
});
// Transposable element labels in panel H
graphic.push({type:'text',x:374,y:1127,z:50,style:{text:'AT5TE34340',font:'bold 9px "Liberation Mono"',fill:'#111',textVerticalAlign:'middle'}});
graphic.push({type:'text',x:684,y:1128,z:50,style:{text:'AT5TE34345;AT5TE34350',font:'bold 4.4px "Liberation Mono"',fill:'#111',textVerticalAlign:'middle'}});

const chart=echarts.init(document.getElementById('c'),null,{renderer:'canvas'});
chart.setOption({animation:false,backgroundColor:'#fff',tooltip:{show:false},grid,xAxis,yAxis,series,graphic});
</script>
</body>
</html>
